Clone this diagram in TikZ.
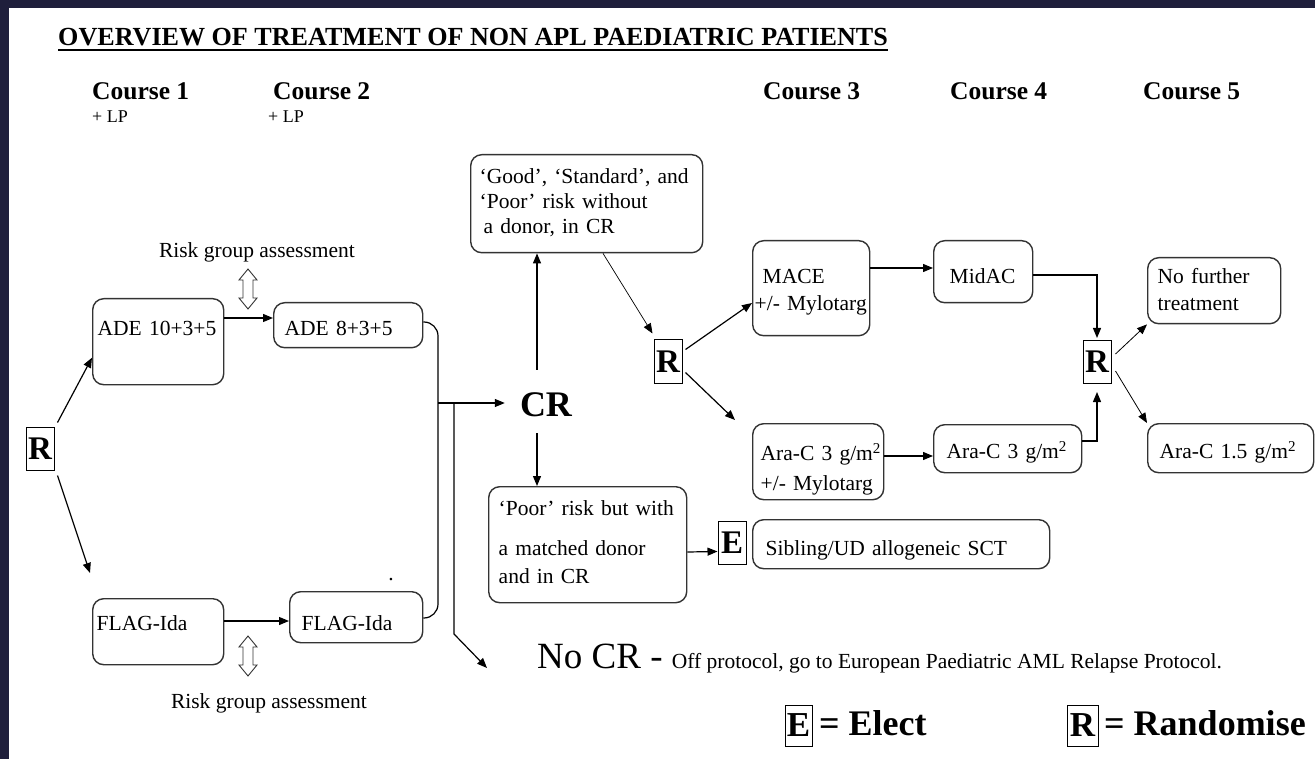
\documentclass[tikz,border=0pt]{standalone}
\usepackage{fontspec}
\setmainfont{Liberation Serif}
\usetikzlibrary{calc}
\usetikzlibrary{arrows.meta}

\definecolor{slide}{RGB}{31,31,60}
\newcommand{\bodyfont}{\fontsize{21.5}{25}\selectfont}
\newcommand{\headfont}{\bfseries\fontsize{25.5}{28}\selectfont}

\tikzset{
  rbox/.style={draw=black!80, line width=1.4pt, rounded corners=11pt, anchor=north west,
    align=left, inner ysep=0pt, font=\bodyfont},
  choice/.style={draw, line width=1pt, inner sep=0pt, minimum width=28pt, minimum height=43pt,
    font=\bfseries\fontsize{33}{33}\selectfont},
  link/.style={line width=1.2pt, -{Triangle[length=10pt,width=8pt]}},
  head/.style={anchor=base west, inner sep=0pt, font=\headfont},
  note/.style={anchor=base west, inner sep=0pt, font=\fontsize{18}{20}\selectfont},
  hollow/.style={draw=black!80, line width=0.9pt, fill=white},
}

\begin{document}
\begin{tikzpicture}[x=1pt, y=-1pt]
\useasboundingbox (0,0) rectangle (1315,759);
\fill[slide] (0,0) rectangle (1315,759);
\fill[white] (8.5,8.5) rectangle (1315,759);

% headings
\node[head, font=\bfseries\fontsize{26.1}{28}\selectfont] (title) at (58,46) {OVERVIEW OF TREATMENT OF NON APL PAEDIATRIC PATIENTS};
\draw[line width=2pt] ($(title.base west)+(0,4)$) -- ($(title.base east)+(0,4)$);
\node[head] (c1) at (92,100) {Course 1};
\node[head] (c2) at (273,100) {Course 2};
\node[head] (c3) at (763,100) {Course 3};
\node[head] (c4) at (950,100) {Course 4};
\node[head] (c5) at (1143,100) {Course 5};
\node[note] (lp1) at (92,123) {+ LP};
\node[note] (lp2) at (268,123) {+ LP};

% courses 1 and 2
\node[choice] (R1) at (40,448.5) {R};
\node[rbox, inner xsep=5pt, text width=121pt, text height=37pt, text depth=49pt] (ade1) at (92,298) {ADE 10+3+5};
\node[rbox, inner xsep=11pt, text width=127pt, text height=33pt, text depth=12pt] (ade2) at (273,302) {ADE 8+3+5};
\node[rbox, inner xsep=4pt, text width=123pt, text height=32pt, text depth=34pt] (flag1) at (92,598) {FLAG-Ida};
\node[rbox, inner xsep=12pt, text width=109pt, text height=39pt, text depth=12pt] (flag2) at (289,591) {FLAG-Ida};
\node[inner sep=0pt, font=\bodyfont] (dot) at (391,580) {.};

\node[anchor=base, inner sep=0pt, font=\bodyfont] (risk1) at (257,258) {Risk group assessment};
\node[anchor=base, inner sep=0pt, font=\bodyfont] (risk2) at (269,708) {Risk group assessment};
\draw[hollow] (248,269) -- ++(9,11) -- ++(-4,0) -- ++(0,18) -- ++(4,0) -- ++(-9,11)
  -- ++(-9,-11) -- ++(4,0) -- ++(0,-18) -- ++(-4,0) -- cycle;
\draw[hollow] (248,636) -- ++(9,11) -- ++(-4,0) -- ++(0,18) -- ++(4,0) -- ++(-9,11)
  -- ++(-9,-11) -- ++(4,0) -- ++(0,-18) -- ++(-4,0) -- cycle;

\draw[link] ($(R1.north east)+(3,-4)$) -- ($(ade1.west)+(0,16)$);
\draw[link] ($(R1.south east)+(3,5)$) -- ($(flag1.north west)+(-2,-25)$);
\draw[link] ($(ade1.north east)+(0,20)$) -- ($(ade2.north west)+(0,16)$);
\draw[link] ($(flag1.north east)+(0,23)$) -- ($(flag2.north west)+(0,30)$);

% response
\node[inner sep=0pt, font=\bfseries\fontsize{36}{36}\selectfont] (CR) at (546,405) {CR};
\coordinate (bus) at (438,403);
\coordinate (tap) at (454,403);
\coordinate (kink) at (454,634);
\coordinate (miss) at (487,668);
\draw[line width=1.2pt, rounded corners=14pt] ($(ade2.north east)+(0,20)$) -| (bus) |- ($(flag2.north east)+(0,27)$);
\draw[link] (bus) -- ($(CR.west |- bus)+(-15,0)$);
\draw[link] (tap) -- (kink) -- (miss);
\node[anchor=base west, inner sep=0pt, font=\fontsize{37}{40}\selectfont] (nocr) at (537,668)
  {No CR - {\bodyfont Off protocol, go to European Paediatric AML Relapse Protocol.}};

\node[rbox, inner xsep=9pt, text width=214pt, text height=29pt, text depth=69pt] (good) at (470,154)
  {‘Good’, ‘Standard’, and\\‘Poor’ risk without\\\hspace*{4pt}a donor, in CR};
\node[rbox, inner xsep=10pt, text width=178pt, text height=29pt, text depth=87pt] (poor) at (488,486)
  {‘Poor’ risk but with\\[15pt]a matched donor\\[3pt]and in CR};
\draw[link] ($(CR.north)+(-9,-23)$) -- ($(good.south west)+(67,0)$);
\draw[link] ($(CR.south)+(-9,16)$) -- ($(poor.north west)+(49,0)$);

\node[choice] (R2) at (668,361.5) {R};
\node[choice] (E1) at (732,542.5) {E};
\draw[link, line width=0.7pt] ($(good.south west)+(133,0)$) -- ($(R2.north west)+(-1,-6)$);
\draw[link] ($(poor.north east)+(0,66)$) -- ($(E1.north west)+(0,31)$);
\node[rbox, inner xsep=13pt, text width=271pt, text height=36pt, text depth=13pt] (sct) at (752,519)
  {Sibling/UD allogeneic SCT};

% courses 3 to 5
\node[rbox, inner xsep=2pt, text width=113pt, text height=43pt, text depth=52pt] (mace) at (752,240)
  {\hspace*{8pt}MACE\\[2pt]\mbox{+/- Mylotarg}};
\node[rbox, inner xsep=8pt, text width=115pt, text height=37pt, text depth=39pt] (ara1) at (752,423)
  {\mbox{Ara-C 3 g/m\textsuperscript{2}}\\[5pt]\mbox{+/- Mylotarg}};
\node[rbox, inner xsep=16pt, text width=67pt, text height=43pt, text depth=19pt] (midac) at (933,240) {MidAC};
\node[rbox, inner xsep=13pt, text width=122pt, text height=34pt, text depth=14pt] (ara2) at (933,424)
  {\mbox{Ara-C 3 g/m\textsuperscript{2}}};
\node[choice] (R3) at (1097,362) {R};
\node[rbox, inner xsep=10pt, text width=113pt, text height=26pt, text depth=40pt] (nofurther) at (1147,257)
  {No further\\[2pt]treatment};
\node[rbox, inner xsep=12pt, text width=142pt, text height=35pt, text depth=14pt] (ara3) at (1147,423)
  {\mbox{Ara-C 1.5 g/m\textsuperscript{2}}};

\draw[link] ($(R2.north east)+(3,10)$) -- ($(mace.north west)+(0,63)$);
\draw[link] ($(R2.north east)+(3,33)$) -- ($(ara1.north west)+(-17,-3)$);
\draw[link] ($(mace.north east)+(0,28)$) -- ($(midac.north west)+(0,28)$);
\draw[link] ($(ara1.north east)+(0,33)$) -- ($(ara2.north west)+(0,32)$);
\draw[link] ($(midac.north east)+(0,35)$) -| ($(R3.north)+(0,-2)$);
\draw[link] ($(ara2.north east)+(0,17)$) -| ($(R3.south)+(0,8)$);
\draw[link, line width=0.8pt] ($(R3.north east)+(4,14)$) -- (nofurther.south west);
\draw[link, line width=0.8pt] ($(R3.north east)+(4,31)$) -- (ara3.north west);

% key
\node[choice, minimum width=27pt, minimum height=41pt, font=\bfseries\fontsize{35}{35}\selectfont] (E2) at (798.5,725.5) {E};
\node[anchor=base west, inner sep=0pt, font=\bfseries\fontsize{36}{36}\selectfont] (elect) at (819,735) {= Elect};
\node[choice, minimum width=31pt, minimum height=41pt, font=\bfseries\fontsize{35}{35}\selectfont] (R4) at (1082.5,725.5) {R};
\node[anchor=base west, inner sep=0pt, font=\bfseries\fontsize{36}{36}\selectfont] (randomise) at (1104,735) {= Randomise};
\end{tikzpicture}
\end{document}
